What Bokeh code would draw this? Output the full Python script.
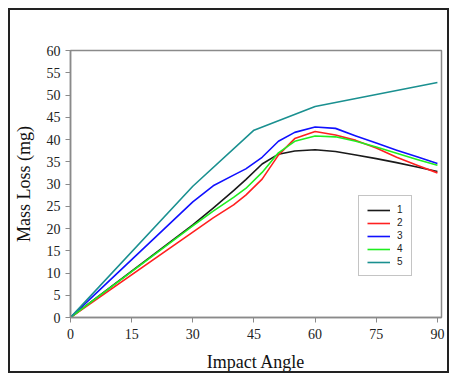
from bokeh.plotting import figure
from bokeh.models import Range1d, FixedTicker, Legend, LegendItem
from bokeh.embed import file_html
from bokeh.resources import INLINE

# Data
angles = [0, 30, 35, 40, 43, 47, 51, 55, 60, 65, 70, 75, 80, 85, 90]
loss_1 = [0, 20.8, 24.6, 28.5, 31.0, 34.5, 36.7, 37.4, 37.7, 37.3, 36.5, 35.7, 34.8, 33.8, 32.8]
loss_2 = [0, 19.2, 22.4, 25.3, 27.5, 31.1, 36.5, 40.2, 41.8, 41.0, 39.8, 38.1, 36.0, 34.2, 32.5]
loss_3 = [0, 26.0, 29.6, 32.0, 33.4, 36.0, 39.6, 41.6, 42.8, 42.5, 40.8, 39.2, 37.6, 36.1, 34.6]
loss_4 = [0, 20.6, 23.9, 27.0, 29.0, 32.6, 37.0, 39.6, 40.8, 40.6, 39.6, 38.3, 36.9, 35.5, 34.2]
angles_5 = [0, 30, 45, 60, 90]
loss_5 = [0, 29.5, 42.1, 47.4, 52.8]

x_ticks = [0, 15, 30, 45, 60, 75, 90]
y_ticks = list(range(0, 61, 5))
series_names = ["1", "2", "3", "4", "5"]
colors = ["#1a1a1a", "#ff2020", "#1010ff", "#20ee20", "#1a9090"]

p = figure(width=441, height=365, output_backend="svg", toolbar_location=None,
           x_range=Range1d(0, 91), y_range=Range1d(0, 60),
           min_border_left=59, min_border_right=10, min_border_top=40, min_border_bottom=58)
p.styles = {"border": "2px solid #222222", "margin-left": "8px", "margin-top": "8px"}
p.xgrid.visible = False
p.ygrid.visible = False
p.outline_line_color = "#8a8a8a"
p.outline_line_width = 1.5
p.background_fill_color = "white"
p.border_fill_color = "white"

for ax in (p.xaxis[0], p.yaxis[0]):
    ax.axis_line_color = "#8a8a8a"
    ax.axis_line_width = 1.5
    ax.major_tick_line_color = "#8a8a8a"
    ax.major_tick_in = 0
    ax.major_tick_out = 5
    ax.minor_tick_line_color = None
    ax.major_label_text_font = "Liberation Serif"
    ax.major_label_text_font_size = "14px"
    ax.major_label_text_color = "#222222"
    ax.axis_label_text_font = "Liberation Serif"
    ax.axis_label_text_font_size = "18px"
    ax.axis_label_text_font_style = "normal"
    ax.axis_label_text_color = "#111111"

p.xaxis.ticker = FixedTicker(ticks=x_ticks)
p.yaxis.ticker = FixedTicker(ticks=y_ticks)
p.xaxis.axis_label = "Impact Angle"
p.yaxis.axis_label = "Mass Loss (mg)"
p.xaxis.major_label_standoff = 6
p.xaxis.axis_label_standoff = 10
p.yaxis.major_label_standoff = 5
p.yaxis.axis_label_standoff = 10

xs = [angles, angles, angles, angles, angles_5]
ys = [loss_1, loss_2, loss_3, loss_4, loss_5]
items = []
for name, c, x, y in zip(series_names, colors, xs, ys):
    r = p.line(x, y, line_color=c, line_width=1.6, line_join="round")
    items.append(LegendItem(label=name, renderers=[r]))

legend = Legend(items=items, location=(288, 41), margin=0, padding=8, spacing=2,
                glyph_width=23, glyph_height=10, label_height=10, label_width=6,
                label_standoff=7,
                label_text_font="Liberation Sans", label_text_font_size="10px",
                label_text_color="#222222",
                border_line_color="#8a8a8a", border_line_width=1.2,
                background_fill_color="white", background_fill_alpha=1.0)
p.add_layout(legend, "center")

open("out.html", "w").write(file_html(p, INLINE))
